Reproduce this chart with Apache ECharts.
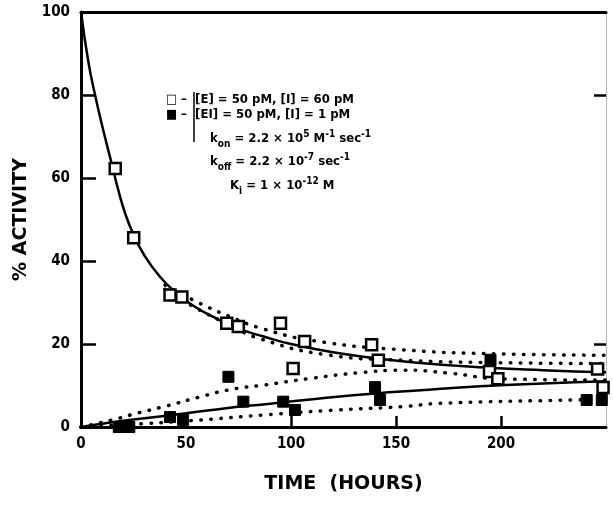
<!DOCTYPE html>
<html>
<head>
<meta charset="utf-8">
<script src="https://cdn.jsdelivr.net/npm/echarts@6/dist/echarts.min.js"></script>
<style>
html,body{margin:0;padding:0;background:#fff;}
#chart{width:613px;height:506px;}
</style>
</head>
<body>
<div id="chart"></div>
<script>
// ---- data ----
var xTicks = [0, 50, 100, 150, 200];
var yTicks = [0, 20, 40, 60, 80, 100];

// open squares: [E] = 50 pM, [I] = 60 pM
var openSquares = [
  [16.3, 62.3], [25.1, 45.6], [42.4, 31.8], [48.0, 31.3], [69.4, 25.0], [74.9, 24.2],
  [95.0, 25.0], [101.0, 14.1], [106.5, 20.6], [138.4, 19.8], [141.6, 16.1],
  [194.5, 13.4], [198.5, 11.6], [246.0, 14.0], [248.6, 9.5]
];
// filled squares: [EI] = 50 pM, [I] = 1 pM
var filledSquares = [
  [18.0, 0.0], [23.0, 0.0], [42.4, 2.4], [48.6, 1.7], [70.2, 12.1], [77.3, 6.1],
  [96.3, 6.1], [101.9, 4.1], [140.0, 9.6], [142.4, 6.5], [195.0, 16.2],
  [240.8, 6.5], [248.0, 6.5]
];
// solid fitted curves (read at points along the drawn line)
var decayFit = [
  [0, 100], [3.5, 88], [6.7, 80], [10.6, 71.5], [14.6, 63.5], [17.8, 57], [21, 51.5],
  [24.9, 46.5], [30, 41.5], [37.6, 36.2], [45, 32.5], [53.5, 29.2], [65, 26], [75, 23.7],
  [87, 21.8], [100, 20], [120, 18], [140, 16.6], [160, 15.5], [190, 14.4], [220, 13.7], [250, 13.2]
];
var riseFit = [
  [0, 0], [10, 0.8], [25, 1.8], [50, 3.3], [70, 4.6], [90, 5.6], [118, 7.1],
  [140, 8.1], [160, 8.8], [190, 9.8], [220, 10.5], [250, 11]
];
// dotted curves
var decayUpper = [
  [40, 34.2], [55, 30.2], [70, 26.8], [87, 23.6], [112, 20.7], [153, 18.6], [200, 17.6], [250, 17.3]
];
var decayLower = [
  [40, 33.2], [55, 28.6], [70, 24.8], [85, 21.3], [117, 17.4], [153, 16.1], [200, 15.5], [250, 15.3]
];
var riseUpper = [
  [0, 0], [15, 1.7], [25, 3.1], [41, 5.1], [57, 7.3], [72, 9.1], [87, 10.1], [109, 11.7],
  [133, 13.1], [153, 13.7], [175, 13.0], [200, 11.6], [250, 11.3]
];
var riseLower = [
  [0, 0], [30, 0.8], [57, 1.7], [87, 2.9], [122, 4.1], [153, 4.9], [171, 5.7], [234, 6.5], [250, 6.6]
];

var legendLines = [
  '\u25A1 \u2013  [E] = 50 pM, [I] = 60 pM',
  '\u25A0 \u2013  [EI] = 50 pM, [I] = 1 pM'
];

// ---- chart ----
var chart = echarts.init(document.getElementById('chart'));
var FONT = 'DejaVu Sans Condensed';
var richBase = {
  b: {fontFamily: FONT, fontWeight: 'bold', fontSize: 13, lineHeight: 20, verticalAlign: 'middle', color: '#000'},
  sup: {fontFamily: FONT, fontWeight: 'bold', fontSize: 10, lineHeight: 20, verticalAlign: 'top', color: '#000'},
  sub: {fontFamily: FONT, fontWeight: 'bold', fontSize: 10, lineHeight: 20, verticalAlign: 'bottom', color: '#000'}
};

function dotted(data) {
  return {
    type: 'line', data: data, smooth: true, symbol: 'none', silent: true, z: 2,
    lineStyle: {color: '#000', width: 3.5, type: [0.5, 9.5], cap: 'round'}
  };
}

var option = {
  animation: false,
  backgroundColor: '#fff',
  grid: {left: 81, right: 7, top: 12, bottom: 79, containLabel: false},
  xAxis: [{
    type: 'value', min: 0, max: 250, interval: 50,
    name: 'TIME  (HOURS)', nameLocation: 'middle', nameGap: 48,
    nameTextStyle: {fontFamily: 'DejaVu Sans', fontWeight: 'bold', fontSize: 19, color: '#000'},
    axisLine: {show: true, onZero: false, lineStyle: {color: '#000', width: 3}},
    axisTick: {show: true, inside: true, length: 11, lineStyle: {color: '#000', width: 2.5}},
    axisLabel: {
      showMaxLabel: false, margin: 10, color: '#000',
      fontFamily: FONT, fontWeight: 'bold', fontSize: 15
    },
    splitLine: {show: false}
  }, {
    type: 'value', min: 0, max: 250, interval: 50, position: 'top',
    axisLine: {show: true, onZero: false, lineStyle: {color: '#000', width: 3}},
    axisTick: {show: false}, axisLabel: {show: false}, splitLine: {show: false}
  }],
  yAxis: [{
    type: 'value', min: 0, max: 100, interval: 20,
    name: '% ACTIVITY', nameLocation: 'middle', nameGap: 45, nameRotate: 90,
    nameTextStyle: {fontFamily: 'DejaVu Sans', fontWeight: 'bold', fontSize: 19, color: '#000'},
    axisLine: {show: true, onZero: false, lineStyle: {color: '#000', width: 3}},
    axisTick: {show: true, inside: true, length: 15, lineStyle: {color: '#000', width: 2.5}},
    axisLabel: {margin: 11, color: '#000', fontFamily: FONT, fontWeight: 'bold', fontSize: 15},
    splitLine: {show: false}
  }, {
    type: 'value', min: 0, max: 100, interval: 20, position: 'right',
    axisLine: {show: true, onZero: false, lineStyle: {color: '#aaa', width: 1, type: 'dotted'}},
    axisTick: {show: true, inside: true, length: 12, customValues: [20, 80], lineStyle: {color: '#000', width: 2.5}},
    axisLabel: {show: false}, splitLine: {show: false}
  }],
  series: [
    dotted(decayUpper),
    dotted(decayLower),
    dotted(riseUpper),
    dotted(riseLower),
    {type: 'line', data: decayFit, smooth: true, symbol: 'none', z: 3,
     lineStyle: {color: '#000', width: 2.5}},
    {type: 'line', data: riseFit, smooth: true, symbol: 'none', z: 3,
     lineStyle: {color: '#000', width: 2.5}},
    {type: 'scatter', data: openSquares, symbol: 'rect', symbolSize: 11, z: 5,
     itemStyle: {color: '#fff', borderColor: '#000', borderWidth: 2.5, opacity: 1}},
    {type: 'scatter', data: filledSquares, symbol: 'rect', symbolSize: 11, z: 5,
     itemStyle: {color: '#000', borderColor: '#000', borderWidth: 1, opacity: 1}}
  ],
  graphic: [
    {type: 'text', left: 166, top: 93, z: 10, style: {text: legendLines[0], fontFamily: FONT, fontWeight: 'bold', fontSize: 13, fill: '#000'}},
    {type: 'text', left: 166, top: 108, z: 10, style: {text: legendLines[1], fontFamily: FONT, fontWeight: 'bold', fontSize: 13, fill: '#000'}},
    {type: 'line', z: 10, shape: {x1: 194, y1: 92, x2: 194, y2: 142}, style: {stroke: '#000', lineWidth: 1.5}},
    {type: 'text', left: 210, top: 129, z: 10, style: {
      text: '{b|k}{sub|on}{b| = 2.2 \u00D7 10}{sup|5}{b| M}{sup|-1}{b| sec}{sup|-1}', rich: richBase}},
    {type: 'text', left: 210, top: 152, z: 10, style: {
      text: '{b|k}{sub|off}{b| = 2.2 \u00D7 10}{sup|-7}{b| sec}{sup|-1}', rich: richBase}},
    {type: 'text', left: 230, top: 176, z: 10, style: {
      text: '{b|K}{sub|i}{b| = 1 \u00D7 10}{sup|-12}{b| M}', rich: richBase}}
  ]
};
chart.setOption(option);
</script>
</body>
</html>
